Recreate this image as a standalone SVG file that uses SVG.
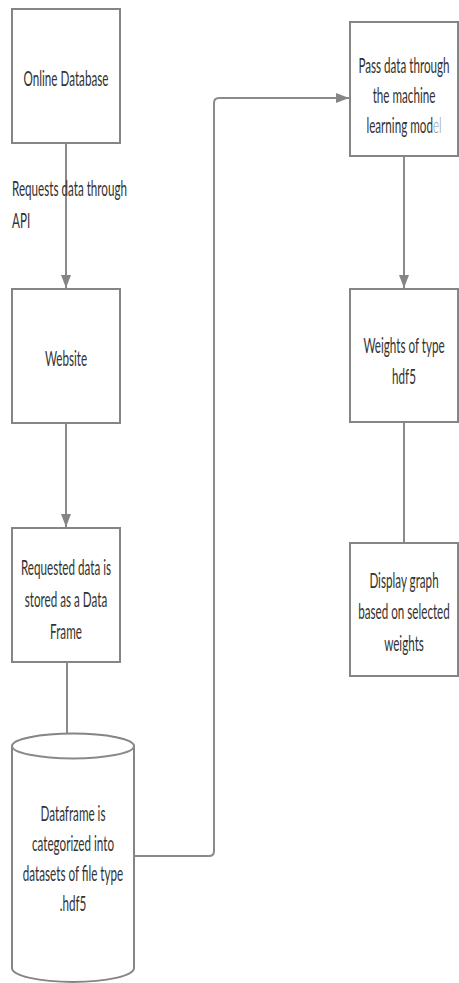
<svg xmlns="http://www.w3.org/2000/svg" width="459" height="983" viewBox="0 0 459 983">
<defs>
<style>
.box{fill:#fff;stroke:#858585;stroke-width:2}
.ln{fill:none;stroke:#8a8a8a;stroke-width:2}
.t{font-family:Lato,"Open Sans",sans-serif;font-size:22px;fill:#333;text-anchor:middle}
.tl{font-family:Lato,"Open Sans",sans-serif;font-size:22px;fill:#333;text-anchor:start}
.lt{fill:#8a8a8a;font-weight:300}
</style>
<marker id="arr" markerUnits="userSpaceOnUse" markerWidth="14" markerHeight="12" refX="13" refY="5" orient="auto">
<path d="M0,0 L13,5 L0,10 Z" fill="#858585"/>
</marker>
</defs>
<rect width="459" height="983" fill="#fff"/>
<g id="connectors">
<path class="ln" d="M66,143 L66,288" marker-end="url(#arr)"/>
<path class="ln" d="M66,423 L66,527" marker-end="url(#arr)"/>
<path class="ln" d="M67,662 L67,733"/>
<path class="ln" d="M134,856 L209,856 Q214,856 214,851 L214,103 Q214,98 219,98 L349,98" marker-end="url(#arr)"/>
<path class="ln" d="M404,156 L404,288" marker-end="url(#arr)"/>
<path class="ln" d="M404,422 L404,543"/>
<g transform="translate(12,196) scale(0.53,1)"><text class="tl" x="0" y="0">Requests data through</text><text class="tl" x="0" y="32">API</text></g>
</g>
<g id="online-database">
<rect class="box" x="12" y="9" width="108" height="134"/>
<g transform="translate(66,86) scale(0.53,1)"><text class="t" x="0" y="0">Online Database</text></g>
</g>
<g id="website">
<rect class="box" x="12" y="289" width="108" height="134"/>
<g transform="translate(66,366) scale(0.53,1)"><text class="t" x="0" y="0">Website</text></g>
</g>
<g id="data-frame">
<rect class="box" x="12" y="528" width="108" height="134"/>
<g transform="translate(66,575) scale(0.53,1)"><text class="t" x="0" y="0">Requested data is</text><text class="t" x="0" y="32">stored as a Data</text><text class="t" x="0" y="64">Frame</text></g>
</g>
<g id="datasets">
<path class="box" d="M12,746 A61,12.5 0 0 1 134,746 L134,968 A61,14 0 0 1 12,968 Z"/>
<path class="ln" d="M12,746 A61,12.5 0 0 0 134,746" stroke="#858585"/>
<g transform="translate(73,821) scale(0.53,1)"><text class="t" x="0" y="0">Dataframe is</text><text class="t" x="0" y="30">categorized into</text><text class="t" x="0" y="60">datasets of file type</text><text class="t" x="0" y="90">.hdf5</text></g>
</g>
<g id="ml-model">
<rect class="box" x="350" y="22" width="108" height="134"/>
<g transform="translate(404,73) scale(0.53,1)"><text class="t" x="0" y="0">Pass data through</text><text class="t" x="0" y="30">the machine</text><text class="t" x="0" y="60">learning mod<tspan class="lt">el</tspan></text></g>
</g>
<g id="weights">
<rect class="box" x="350" y="289" width="108" height="133"/>
<g transform="translate(404,353) scale(0.53,1)"><text class="t" x="0" y="0">Weights of type</text><text class="t" x="0" y="31">hdf5</text></g>
</g>
<g id="display-graph">
<rect class="box" x="350" y="543" width="108" height="133"/>
<g transform="translate(404,588) scale(0.53,1)"><text class="t" x="0" y="0">Display graph</text><text class="t" x="0" y="31">based on selected</text><text class="t" x="0" y="63">weights</text></g>
</g>
</svg>
